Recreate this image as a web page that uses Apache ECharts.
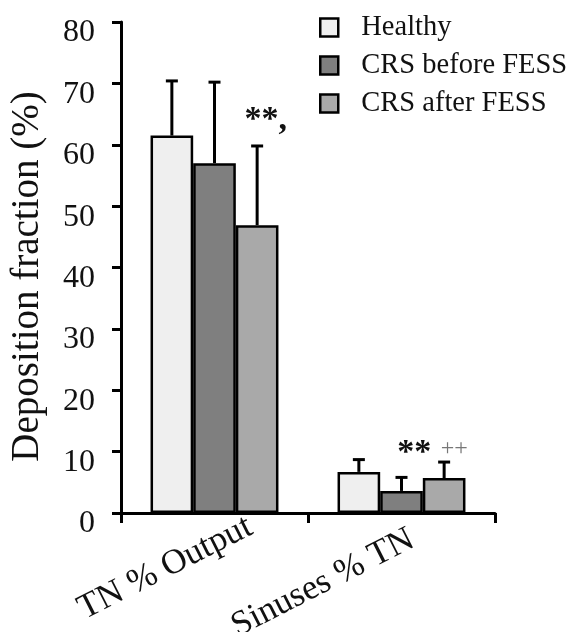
<!DOCTYPE html>
<html>
<head>
<meta charset="utf-8">
<script src="https://cdn.jsdelivr.net/npm/echarts@6/dist/echarts.min.js"></script>
<style>
html,body{margin:0;padding:0;background:#fff;}
#chart{width:574px;height:632px;}
</style>
</head>
<body>
<div id="chart"></div>
<script>
// ---- data ----
var categories = ['TN % Output', 'Sinuses % TN'];
var seriesNames = ['Healthy', 'CRS before FESS', 'CRS after FESS'];
var healthy = [61.5, 6.7];
var crsBefore = [57.0, 3.6];
var crsAfter = [46.9, 5.7];
var healthyErr = [8.9, 2.0];
var crsBeforeErr = [13.2, 2.2];
var crsAfterErr = [12.9, 2.6];
var yTicks = [0, 10, 20, 30, 40, 50, 60, 70, 80];
// annotations: category index, bar slot (fractional), y value, text
var annCat = [0, 1, 1];
var annSlot = [2.2, 1.3, 2.24];
var annY = [64, 9.8, 10.4];
var annText = ['**,', '**', '++'];

// ---- styling ----
var FONT = "'Liberation Serif','Times New Roman',serif";
var colors = ['#efefef', '#7f7f7f', '#a9a9a9'];
var CAT_GAP = 0.316;

var values = [healthy, crsBefore, crsAfter];
var errs = [healthyErr, crsBeforeErr, crsAfterErr];

var barSeries = seriesNames.map(function (n, i) {
  return {
    name: n, type: 'bar', data: values[i],
    barGap: '0%', barCategoryGap: (CAT_GAP * 100) + '%',
    itemStyle: { color: colors[i], borderColor: '#000', borderWidth: 2.5 },
    z: 2
  };
});

var errSeries = seriesNames.map(function (n, i) {
  return {
    type: 'custom', name: n + ' err', z: 3, silent: true,
    data: values[i].map(function (v, c) { return [c, v, errs[i][c]]; }),
    renderItem: function (params, api) {
      var c = api.value(0), v = api.value(1), e = api.value(2);
      var p0 = api.coord([c, v]);
      var p1 = api.coord([c, v + e]);
      var band = api.size([1, 0])[0];
      var bw = band * (1 - CAT_GAP) / 3;
      var x = p0[0] + (i - 1) * bw;
      var st = { stroke: '#000', lineWidth: 3 };
      return {
        type: 'group', children: [
          { type: 'line', shape: { x1: x, y1: p0[1], x2: x, y2: p1[1] }, style: st },
          { type: 'line', shape: { x1: x - 6, y1: p1[1], x2: x + 6, y2: p1[1] }, style: st }
        ]
      };
    }
  };
});

var annSeries = {
  type: 'custom', name: 'annotations', z: 4, silent: true,
  data: annCat.map(function (c, k) { return [c, annY[k], annSlot[k], k]; }),
  renderItem: function (params, api) {
    var c = api.value(0), y = api.value(1), s = api.value(2), k = api.value(3);
    var p = api.coord([c, y]);
    var band = api.size([1, 0])[0];
    var bw = band * (1 - CAT_GAP) / 3;
    var t = annText[k];
    var plus = t === '++';
    return {
      type: 'text',
      style: {
        x: p[0] + (s - 1) * bw, y: p[1], text: t,
        textAlign: 'center', textVerticalAlign: 'middle',
        fontFamily: FONT, fontSize: plus ? 24 : 34, fontWeight: plus ? 'normal' : 'bold',
        fill: plus ? '#777' : '#111'
      }
    };
  }
};

var chart = echarts.init(document.getElementById('chart'), null, { renderer: 'canvas' });
chart.setOption({
  backgroundColor: '#fff',
  animation: false,
  textStyle: { fontFamily: FONT, color: '#111' },
  grid: { left: 121, right: 79, top: 22, bottom: 119, containLabel: false, outerBoundsMode: 'none' },
  legend: {
    orient: 'vertical', left: 314, top: 8,
    data: seriesNames,
    icon: 'rect', itemWidth: 18, itemHeight: 18, itemGap: 9,
    itemStyle: { borderColor: '#000', borderWidth: 2.5 },
    textStyle: { fontFamily: FONT, fontSize: 28.5, color: '#111', padding: [0, 0, 0, 18] }
  },
  xAxis: {
    type: 'category',
    data: [
      { value: categories[0], textStyle: { padding: [0, -40, 0, 0] } },
      { value: categories[1], textStyle: { padding: [0, -12, 0, 0] } }
    ],
    axisLine: { lineStyle: { color: '#000', width: 3 } },
    axisTick: { show: true, length: 10, lineStyle: { color: '#000', width: 3 } },
    axisLabel: { rotate: 27, margin: 30, fontFamily: FONT, fontSize: 35, color: '#111' }
  },
  yAxis: {
    type: 'value', min: 0, max: 80, interval: 10,
    name: 'Deposition fraction (%)', nameLocation: 'middle', nameGap: 74, nameRotate: 90,
    nameTextStyle: { fontFamily: FONT, fontSize: 39, color: '#111', padding: [0, 18, 0, 0] },
    axisLine: { show: true, lineStyle: { color: '#000', width: 3 } },
    axisTick: { show: true, length: 9, lineStyle: { color: '#000', width: 3 } },
    splitLine: { show: false },
    axisLabel: {
      margin: 26, fontFamily: FONT, fontSize: 32, color: '#111',
      verticalAlign: 'top', lineHeight: 22,
      formatter: function (v) { return yTicks.indexOf(v) >= 0 ? String(v) : ''; }
    }
  },
  series: barSeries.concat(errSeries).concat([annSeries])
});
</script>
</body>
</html>
